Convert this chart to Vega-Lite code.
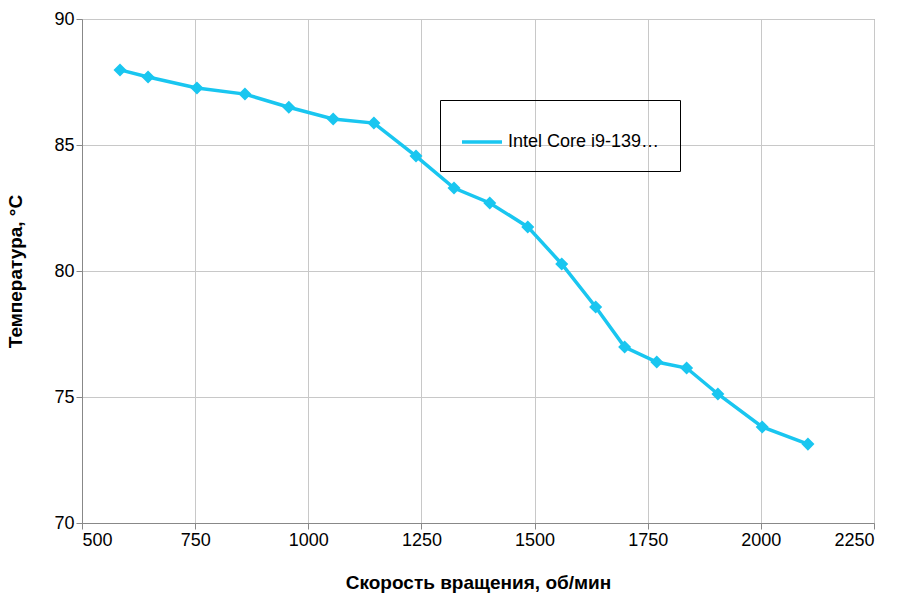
{
  "$schema": "https://vega.github.io/schema/vega-lite/v6.json",
  "width": 792,
  "height": 504,
  "autosize": {"type": "none"},
  "padding": {"left": 82, "top": 19, "right": 33, "bottom": 77},
  "background": "white",
  "data": {
    "values": [
      {"rpm": 584, "temp": 87.98, "cpu": "Intel Core i9-13900K"},
      {"rpm": 646, "temp": 87.7, "cpu": "Intel Core i9-13900K"},
      {"rpm": 754, "temp": 87.26, "cpu": "Intel Core i9-13900K"},
      {"rpm": 860, "temp": 87.02, "cpu": "Intel Core i9-13900K"},
      {"rpm": 957, "temp": 86.5, "cpu": "Intel Core i9-13900K"},
      {"rpm": 1055, "temp": 86.03, "cpu": "Intel Core i9-13900K"},
      {"rpm": 1145, "temp": 85.87, "cpu": "Intel Core i9-13900K"},
      {"rpm": 1238, "temp": 84.56, "cpu": "Intel Core i9-13900K"},
      {"rpm": 1322, "temp": 83.29, "cpu": "Intel Core i9-13900K"},
      {"rpm": 1401, "temp": 82.7, "cpu": "Intel Core i9-13900K"},
      {"rpm": 1485, "temp": 81.75, "cpu": "Intel Core i9-13900K"},
      {"rpm": 1560, "temp": 80.28, "cpu": "Intel Core i9-13900K"},
      {"rpm": 1635, "temp": 78.57, "cpu": "Intel Core i9-13900K"},
      {"rpm": 1699, "temp": 76.98, "cpu": "Intel Core i9-13900K"},
      {"rpm": 1770, "temp": 76.39, "cpu": "Intel Core i9-13900K"},
      {"rpm": 1836, "temp": 76.15, "cpu": "Intel Core i9-13900K"},
      {"rpm": 1905, "temp": 75.12, "cpu": "Intel Core i9-13900K"},
      {"rpm": 2003, "temp": 73.81, "cpu": "Intel Core i9-13900K"},
      {"rpm": 2104, "temp": 73.13, "cpu": "Intel Core i9-13900K"}
    ]
  },
  "mark": {
    "type": "line",
    "strokeWidth": 3.5,
    "point": {"shape": "diamond", "size": 170, "filled": true, "opacity": 1}
  },
  "encoding": {
    "x": {
      "field": "rpm", "type": "quantitative",
      "scale": {"domain": [500, 2250], "nice": false},
      "axis": {"values": [500, 750, 1000, 1250, 1500, 1750, 2000, 2250], "format": "d", "title": "Скорость вращения, об/мин", "titlePadding": 24}
    },
    "y": {
      "field": "temp", "type": "quantitative",
      "scale": {"domain": [70, 90], "nice": false, "zero": false},
      "axis": {"values": [70, 75, 80, 85, 90], "title": "Температура, °C", "titlePadding": 28}
    },
    "color": {
      "field": "cpu", "type": "nominal",
      "scale": {"range": ["#19C6F0"]},
      "legend": {
        "title": null, "orient": "none", "legendX": 358, "legendY": 81,
        "symbolType": "stroke", "symbolStrokeWidth": 3.5, "symbolSize": 1600,
        "labelFontSize": 18, "labelFont": "Liberation Sans", "labelColor": "black",
        "strokeColor": "black", "padding": 20
      }
    }
  },
  "config": {
    "font": "Liberation Sans",
    "view": {"stroke": "#888"},
    "axis": {
      "labelFontSize": 18, "labelColor": "black", "labelFont": "Liberation Sans",
      "titleFontSize": 19, "titleFontWeight": "bold", "titleColor": "black",
      "gridColor": "#c8c8c8", "domainColor": "#888", "tickColor": "#888", "tickSize": 6
    }
  }
}
